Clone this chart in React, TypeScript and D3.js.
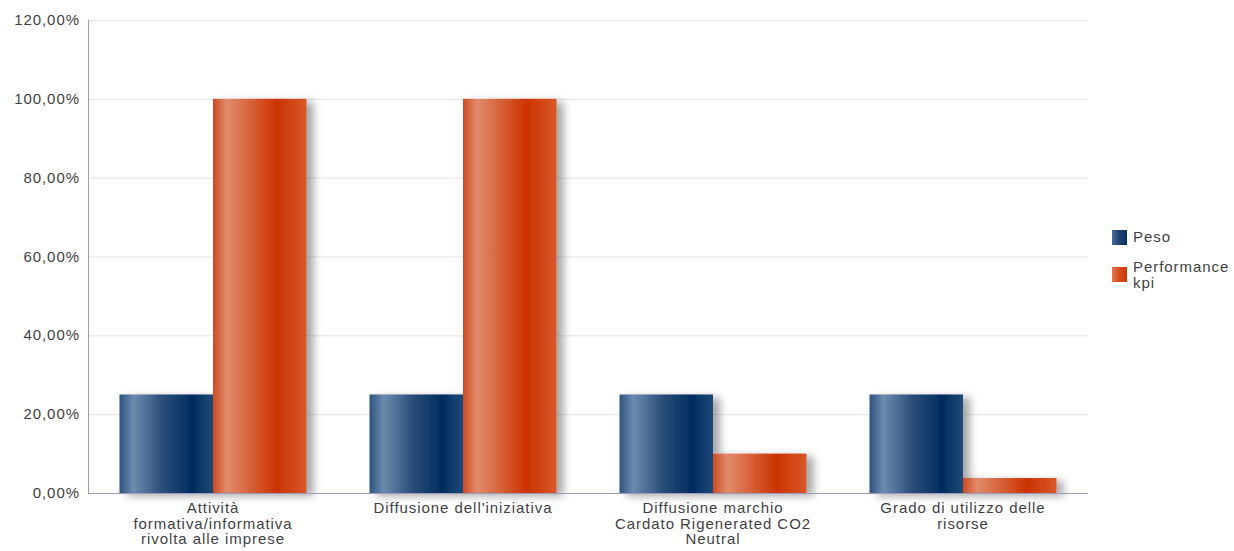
import React from "react";
import * as d3 from "d3";

const categories = [
  ["Attività", "formativa/informativa", "rivolta alle imprese"],
  ["Diffusione dell'iniziativa"],
  ["Diffusione marchio", "Cardato Rigenerated CO2", "Neutral"],
  ["Grado di utilizzo delle", "risorse"],
];
const seriesNames = ["Peso", "Performance kpi"];
const peso = [25, 25, 25, 25];
const performance = [100, 100, 10, 3.8];
const yTicks = [0, 20, 40, 60, 80, 100, 120];

const W = 1234;
const H = 551;
const margin = { left: 88, right: 146, top: 20, bottom: 58 };

export default function App() {
  const x0 = d3
    .scaleBand<number>()
    .domain(d3.range(categories.length))
    .range([margin.left, W - margin.right])
    .paddingInner(0.252)
    .paddingOuter(0.126);
  const x1 = d3.scaleBand<number>().domain([0, 1]).range([0, x0.bandwidth()]);
  const y = d3.scaleLinear().domain([0, 120]).range([H - margin.bottom, margin.top]);
  const fmt = (v: number) => v.toFixed(2).replace(".", ",") + "%";
  const series = [peso, performance];
  const font = "'Liberation Sans', Arial, sans-serif";
  const textColor = "#3f3f46";
  const fs = 15;
  const ls = 0.95;
  const x0Axis = margin.left;
  const x1Axis = W - margin.right;

  return (
    <svg width={W} height={H} style={{ position: "absolute", left: 0, top: 0 }}>
      <defs>
        <linearGradient id="gBlue" x1="0" x2="1" y1="0" y2="0">
          <stop offset="0" stopColor="#2e5480" />
          <stop offset="0.15" stopColor="#6c8cad" />
          <stop offset="0.45" stopColor="#2c4f7a" />
          <stop offset="0.78" stopColor="#002b5e" />
          <stop offset="1" stopColor="#1f4a78" />
        </linearGradient>
        <linearGradient id="gOrange" x1="0" x2="1" y1="0" y2="0">
          <stop offset="0" stopColor="#cc4a22" />
          <stop offset="0.15" stopColor="#e08b6c" />
          <stop offset="0.45" stopColor="#d45a30" />
          <stop offset="0.68" stopColor="#cc3300" />
          <stop offset="1" stopColor="#d8582a" />
        </linearGradient>
        <linearGradient id="gBlueL" x1="0" x2="1" y1="0" y2="0">
          <stop offset="0" stopColor="#4a6c94" />
          <stop offset="0.5" stopColor="#1c4272" />
          <stop offset="1" stopColor="#0a3060" />
        </linearGradient>
        <linearGradient id="gOrangeL" x1="0" x2="1" y1="0" y2="0">
          <stop offset="0" stopColor="#e07a50" />
          <stop offset="0.5" stopColor="#d44a1a" />
          <stop offset="1" stopColor="#cc3a08" />
        </linearGradient>
        <filter id="shadow" x="-20%" y="-20%" width="160%" height="140%">
          <feGaussianBlur in="SourceAlpha" stdDeviation="4" />
          <feOffset dx="7" dy="3" result="b" />
          <feComponentTransfer>
            <feFuncA type="linear" slope="0.35" />
          </feComponentTransfer>
          <feMerge>
            <feMergeNode />
            <feMergeNode in="SourceGraphic" />
          </feMerge>
        </filter>
      </defs>

      {yTicks.map((t) => (
        <g key={t}>
          {t > 0 && (
            <line x1={x0Axis} x2={x1Axis} y1={y(t) + 0.5} y2={y(t) + 0.5} stroke="#e2e2ec" strokeWidth={1} />
          )}
          <text
            x={80}
            y={y(t) + 5}
            textAnchor="end"
            fontFamily={font}
            fontSize={fs}
            letterSpacing={ls}
            fill={textColor}
          >
            {fmt(t)}
          </text>
        </g>
      ))}

      {categories.map((c, i) => (
        <g key={i} filter="url(#shadow)">
          {series.map((s, j) => (
            <rect
              key={j}
              x={(x0(i) as number) + (x1(j) as number)}
              y={y(s[i])}
              width={x1.bandwidth()}
              height={y(0) - y(s[i])}
              fill={j === 0 ? "url(#gBlue)" : "url(#gOrange)"}
            />
          ))}
        </g>
      ))}

      <line x1={x0Axis + 0.5} x2={x0Axis + 0.5} y1={margin.top} y2={y(0)} stroke="#9b9bbd" strokeWidth={1} />
      <line x1={x0Axis} x2={x1Axis} y1={y(0) + 0.5} y2={y(0) + 0.5} stroke="#9b9bbd" strokeWidth={1} />

      {categories.map((c, i) => {
        const cx = (x0(i) as number) + x0.bandwidth() / 2;
        return (
          <text
            key={i}
            x={cx}
            y={513}
            textAnchor="middle"
            fontFamily={font}
            fontSize={fs}
            letterSpacing={ls}
            fill={textColor}
          >
            {c.map((line, k) => (
              <tspan key={k} x={cx} dy={k === 0 ? 0 : 15.5}>
                {line}
              </tspan>
            ))}
          </text>
        );
      })}

      <g>
        <rect x={1112} y={230} width={15} height={15} fill="url(#gBlueL)" />
        <text x={1133} y={242} fontFamily={font} fontSize={fs} letterSpacing={ls} fill={textColor}>
          {seriesNames[0]}
        </text>
        <rect x={1112} y={267} width={15} height={15} fill="url(#gOrangeL)" />
        <text x={1133} y={271.5} fontFamily={font} fontSize={fs} letterSpacing={ls} fill={textColor}>
          {seriesNames[1].split(" ")[0]}
        </text>
        <text x={1133} y={287.5} fontFamily={font} fontSize={fs} letterSpacing={ls} fill={textColor}>
          {seriesNames[1].split(" ")[1]}
        </text>
      </g>
    </svg>
  );
}
